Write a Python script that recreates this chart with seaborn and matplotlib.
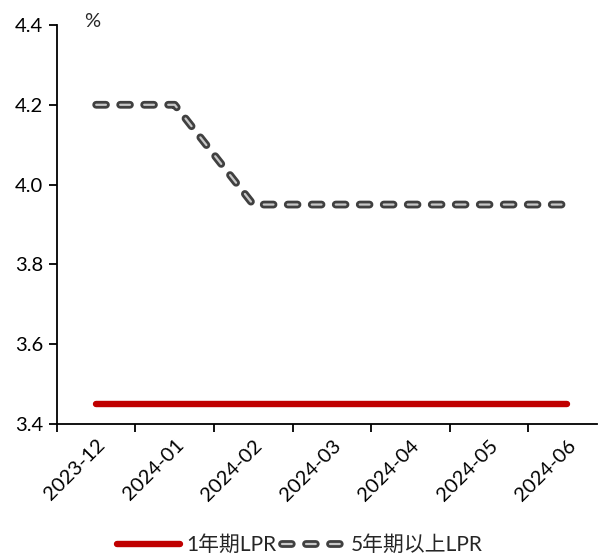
import matplotlib
matplotlib.use("Agg")
import matplotlib.pyplot as plt
import matplotlib.patheffects as pe
import seaborn as sns
import pandas as pd

months = ["2023-12", "2024-01", "2024-02", "2024-03", "2024-04", "2024-05", "2024-06"]
lpr_1y = [3.45, 3.45, 3.45, 3.45, 3.45, 3.45, 3.45]
lpr_5y = [4.20, 4.20, 3.95, 3.95, 3.95, 3.95, 3.95]
label_1y = "1年期LPR"
label_5y = "5年期以上LPR"

sns.set_theme(style="white")
plt.rcParams["font.family"] = ["Lato", "Noto Sans CJK SC", "DejaVu Sans"]

df = pd.DataFrame({"month": months, "lpr_1y": lpr_1y, "lpr_5y": lpr_5y})

fig = plt.figure(figsize=(5.99, 5.55), dpi=100)
ax = fig.add_axes([0.095, 0.236, 0.902, 0.719])

sns.lineplot(data=df, x="month", y="lpr_1y", ax=ax, color="#C00000",
             linewidth=4.6, solid_capstyle="round", label=label_1y, sort=False)
sns.lineplot(data=df, x="month", y="lpr_5y", ax=ax, color="#C8C8C8",
             linewidth=1.6, label=label_5y, sort=False)

line5 = ax.get_lines()[1]
line5.set_dashes((4.4, 6.4))
line5.set_dash_capstyle("round")
line5.set_path_effects([pe.Stroke(linewidth=5.6, foreground="#404040", capstyle="round"),
                        pe.Normal()])

ticks_y = [3.4, 3.6, 3.8, 4.0, 4.2, 4.4]
ax.set_ylim(3.4, 4.4)
ax.set_yticks(ticks_y)
ax.set_yticklabels([f"{v:.1f}" for v in ticks_y])
ax.set_xlim(-0.5, 6.38)

# month labels centred on categories, tick marks on category boundaries
ax.set_xticks(range(len(months)))
ax.set_xticklabels(months, rotation=45, ha="right", va="top", rotation_mode="anchor")
ax.set_xticks([i - 0.5 for i in range(len(months))], minor=True)
ax.tick_params(axis="x", which="major", length=0, pad=9, labelsize=14.5, colors="#000000")
ax.tick_params(axis="x", which="minor", length=6, width=1.3, direction="out",
               bottom=True, color="#000000")
ax.tick_params(axis="y", length=6, width=1.3, direction="out", left=True,
               labelsize=14.5, colors="#000000", pad=4)

ax.set_xlabel("")
ax.set_ylabel("")
for side in ["top", "right"]:
    ax.spines[side].set_visible(False)
for side in ["left", "bottom"]:
    ax.spines[side].set_color("#000000")
    ax.spines[side].set_linewidth(1.3)

ax.text(0.05, 1.03, "%", transform=ax.transAxes, fontsize=14.5, ha="left", va="top")

ax.legend(loc="lower center", bbox_to_anchor=(0.45, -0.36),
          ncol=2, frameon=False, fontsize=15, handlelength=3.0, columnspacing=0.3,
          handletextpad=0.3, borderpad=0.1)

fig.savefig("out.png", dpi=100)
